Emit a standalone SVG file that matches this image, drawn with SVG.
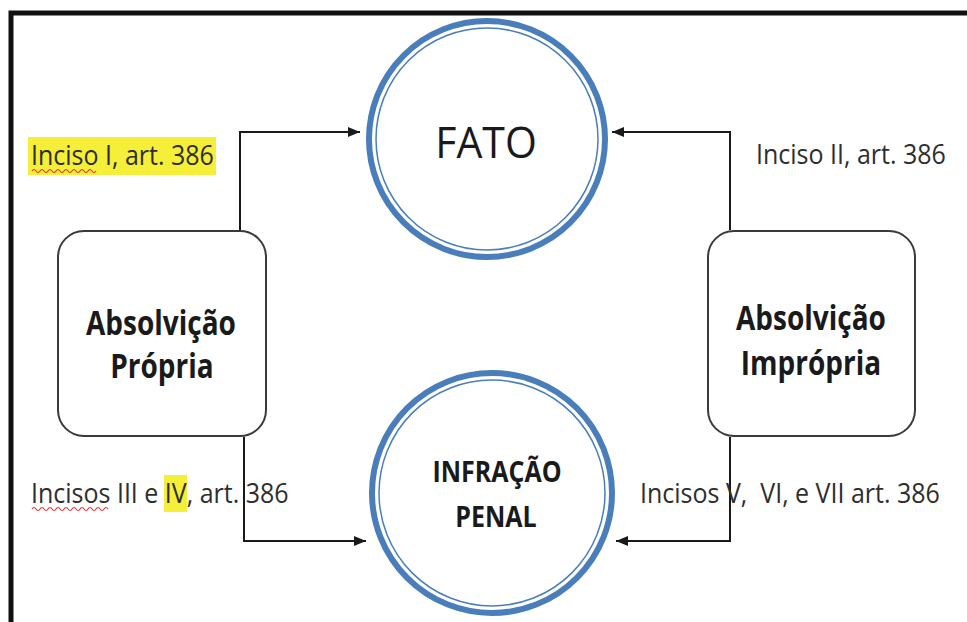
<svg xmlns="http://www.w3.org/2000/svg" width="967" height="622" viewBox="0 0 967 622">
<style>
.lbl{font-family:"Open Sans","Liberation Sans",sans-serif;font-size:25px;fill:#2e2e2e}
.bx{fill:#fff;stroke:#3a3a3a;stroke-width:2}
.bt{font-family:"Open Sans","Liberation Sans",sans-serif;font-size:28px;font-weight:bold;fill:#1a1a1a;text-anchor:middle}
.ct{font-family:"Open Sans","Liberation Sans",sans-serif;fill:#1a1a1a;text-anchor:middle}
.co{fill:#fff;stroke:#4a7ebb;stroke-width:6}
.ci{fill:none;stroke:#4a7ebb;stroke-width:1.5}
.cn{fill:none;stroke:#1a1a1a;stroke-width:2}
.hl{fill:#f5ef3a}
.wv{fill:none;stroke:#e03030;stroke-width:1.2}
</style>
<defs>
<marker id="ah" viewBox="0 0 12 10" refX="12" refY="5" markerWidth="12" markerHeight="10" markerUnits="userSpaceOnUse" orient="auto">
<path d="M0,0 L12,5 L0,10 Z" fill="#1a1a1a"/>
</marker>
</defs>
<rect width="967" height="622" fill="#fff"/>
<path d="M11,622 V13 H967" fill="none" stroke="#111" stroke-width="5"/>

<g id="connectors">
<path class="cn" d="M240,230 V132 H360" marker-end="url(#ah)"/>
<path class="cn" d="M244,437 V541 H366" marker-end="url(#ah)"/>
<path class="cn" d="M730,230 V132 H612" marker-end="url(#ah)"/>
<path class="cn" d="M730,437 V541 H616" marker-end="url(#ah)"/>
</g>

<g id="fato">
<circle class="co" cx="487" cy="139" r="118"/>
<circle class="ci" cx="487" cy="139" r="111"/>
<text class="ct" transform="translate(486,158) scale(1,1.08)" font-size="41">FATO</text>
</g>

<g id="infracao">
<circle class="co" cx="492" cy="493" r="120"/>
<circle class="ci" cx="492" cy="493" r="113"/>
<text class="ct" transform="translate(497,482) scale(1,1.12)" font-size="25" font-weight="bold">INFRAÇÃO</text>
<text class="ct" transform="translate(496,527) scale(1,1.12)" font-size="25" font-weight="bold">PENAL</text>
</g>

<g id="propria">
<rect class="bx" x="58" y="231" width="208" height="205" rx="26"/>
<text class="bt" transform="translate(161,335) scale(1,1.2)">Absolvição</text>
<text class="bt" transform="translate(162,378) scale(1,1.2)">Própria</text>
</g>

<g id="impropria">
<rect class="bx" x="708" y="231" width="207" height="205" rx="26"/>
<text class="bt" transform="translate(811,330) scale(1,1.2)">Absolvição</text>
<text class="bt" transform="translate(811,375) scale(1,1.2)">Imprópria</text>
</g>

<g id="label-i">
<rect class="hl" x="28" y="137" width="188" height="38"/>
<text class="lbl" transform="translate(31,165) scale(1,1.1)">Inciso I, art. 386</text>
<path class="wv" d="M32,171 q2,-3 4,0 t4,0 t4,0 t4,0 t4,0 t4,0 t4,0 t4,0 t4,0 t4,0 t4,0 t4,0 t4,0 t4,0 t4,0 t4,0"/>
</g>

<g id="label-ii">
<text class="lbl" transform="translate(756,164) scale(1,1.1)">Inciso II, art. 386</text>
</g>

<g id="label-iii-iv">
<rect class="hl" x="164" y="475" width="23" height="37"/>
<text class="lbl" transform="translate(31,503) scale(1,1.1)">Incisos III e IV, art. 386</text>
<path class="wv" d="M32,509 q2,-3 4,0 t4,0 t4,0 t4,0 t4,0 t4,0 t4,0 t4,0 t4,0 t4,0 t4,0 t4,0 t4,0 t4,0 t4,0 t4,0 t4,0 t4,0 t4,0"/>
</g>

<g id="label-v-vii">
<text class="lbl" transform="translate(640,503) scale(1,1.1)" xml:space="preserve">Incisos V,  VI, e VII art. 386</text>
</g>
</svg>
